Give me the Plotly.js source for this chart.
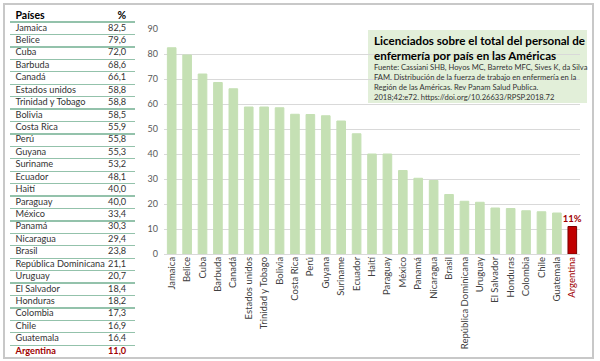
<!DOCTYPE html>
<html>
<head>
<meta charset="utf-8">
<script src="https://cdn.plot.ly/plotly-3.0.1.min.js"></script>
<style>html,body{margin:0;padding:0;background:#fff;}#chart{width:600px;height:361px;}</style>
</head>
<body>
<div id="chart"></div>
<script>
const countries = ["Jamaica","Belice","Cuba","Barbuda","Canadá","Estados unidos","Trinidad y Tobago","Bolivia","Costa Rica","Perú","Guyana","Suriname","Ecuador","Haití","Paraguay","México","Panamá","Nicaragua","Brasil","República Dominicana","Uruguay","El Salvador","Honduras","Colombia","Chile","Guatemala","Argentina"];
const values = [82.5,79.6,72.0,68.6,66.1,58.8,58.8,58.5,55.9,55.8,55.3,53.2,48.1,40.0,40.0,33.4,30.3,29.4,23.8,21.1,20.7,18.4,18.2,17.3,16.9,16.4,11.0];
const headerCountry = "Países";
const headerValue = "%";
const highlight = "Argentina";
const yTicks = [0,10,20,30,40,50,60,70,80,90];
const titleText = "Licenciados sobre el total del personal de<br>enfermería por país en las Américas";
const sourceText = "Fuente: Cassiani SHB, Hoyos MC, Barreto MFC, Sives K, da Silva<br>FAM. Distribución de la fuerza de trabajo en enfermería en la<br>Región de las Américas. Rev Panam Salud Publica.<br>2018;42:e72. https://doi.org/10.26633/RPSP.2018.72";

const FONT = "Lato, 'Open Sans', sans-serif";
const GREEN = "#c5e0b4";
const RED = "#c00000";
const DARKRED = "#a00000";

// Table (left)
const tableRows = [headerCountry].concat(countries);
const nameText = ["<b>" + headerCountry + "</b>"].concat(countries.map(c => c === highlight ? "<b>" + c + "</b>" : c));
const valText = ["<b>" + headerValue + "</b>"].concat(values.map((v, i) => {
  const s = v.toFixed(1).replace('.', ',');
  return countries[i] === highlight ? "<b>" + s + "</b>" : s;
}));
const rowColors = ["#000"].concat(countries.map(c => c === highlight ? DARKRED : "#333"));
const rowSizes = [10.5].concat(countries.map(() => 9.2));

const traces = [
  {
    type: "scatter", mode: "text", xaxis: "x2", yaxis: "y2",
    x: tableRows.map(() => 0), y: tableRows, text: nameText,
    textposition: "middle right", textfont: {family: FONT, size: rowSizes, color: rowColors},
    hoverinfo: "skip", showlegend: false, cliponaxis: false
  },
  {
    type: "scatter", mode: "text", xaxis: "x2", yaxis: "y2",
    x: tableRows.map(() => 1), y: tableRows, text: valText,
    textposition: "middle left", textfont: {family: FONT, size: rowSizes, color: rowColors},
    hoverinfo: "skip", showlegend: false, cliponaxis: false
  },
  {
    type: "bar", x: countries, y: values,
    marker: {
      color: countries.map(c => c === highlight ? RED : GREEN),
      line: {color: countries.map(c => c === highlight ? "#7a0000" : GREEN), width: 1}
    },
    text: values.map((v, i) => countries[i] === highlight ? "<b>" + Math.round(v) + "%</b>" : ""),
    textposition: "outside", cliponaxis: false, constraintext: "none",
    textfont: {family: FONT, size: 9.5, color: DARKRED},
    hoverinfo: "skip", showlegend: false
  }
];

const layout = {
  width: 600, height: 361,
  margin: {l: 0, r: 0, t: 0, b: 0},
  paper_bgcolor: "#fff", plot_bgcolor: "rgba(0,0,0,0)",
  font: {family: FONT, color: "#404040"},
  bargap: 0.44,
  xaxis: {
    domain: [164/600, 580/600], type: "category",
    tickangle: -90, tickfont: {size: 9.5, color: "#404040"},
    tickmode: "array", tickvals: countries,
    ticktext: countries.map(c => c === highlight ? '<span style="color:' + DARKRED + '">' + c + '</span>' : c),
    showgrid: false, showline: false, ticks: "", fixedrange: true
  },
  yaxis: {
    domain: [(361-254)/361, (361-29)/361], range: [0, 90],
    tickmode: "array", tickvals: yTicks,
    tickfont: {size: 9, color: "#595959"},
    gridcolor: "#d9d9d9", gridwidth: 1, zeroline: true, zerolinecolor: "#d9d9d9",
    showline: false, ticks: "", ticklabelstandoff: 5, fixedrange: true
  },
  xaxis2: {
    domain: [10/600, 135/600], range: [-0.05, 1.08], anchor: "y2",
    showgrid: false, zeroline: false, showticklabels: false, showline: false, fixedrange: true
  },
  yaxis2: {
    domain: [(361-357.5)/361, (361-9.8)/361], anchor: "x2",
    type: "category", categoryorder: "array", categoryarray: tableRows,
    range: [tableRows.length - 0.51, -0.49],
    tickmode: "linear", tick0: 0, dtick: 1,
    tickson: "boundaries", showgrid: true, gridcolor: "#93c2ab", gridwidth: 1.3,
    showticklabels: false, ticks: "", zeroline: false, showline: false, fixedrange: true
  },
  shapes: [
    {type: "rect", xref: "paper", yref: "paper", x0: 4/600, x1: 593/600, y0: (361-358)/361, y1: (361-4)/361,
     line: {color: "#c8c8c8", width: 2}, fillcolor: "rgba(0,0,0,0)", layer: "below"},
    {type: "rect", xref: "paper", yref: "paper", x0: 368/600, x1: 587/600, y0: (361-103)/361, y1: (361-30)/361,
     line: {width: 0}, fillcolor: "#e2efd9", layer: "below"}
  ],
  annotations: [
    {xref: "paper", yref: "paper", x: 372/600, y: (361-32)/361, xanchor: "left", yanchor: "top",
     align: "left", showarrow: false, text: "<b>" + titleText + "</b>",
     font: {family: FONT, size: 11.6, color: "#000"}},
    {xref: "paper", yref: "paper", x: 372/600, y: (361-60)/361, xanchor: "left", yanchor: "top",
     align: "left", showarrow: false, text: sourceText,
     font: {family: FONT, size: 7.6, color: "#333"}}
  ]
};

Plotly.newPlot("chart", traces, layout, {displayModeBar: false, staticPlot: true});
</script>
</body>
</html>
